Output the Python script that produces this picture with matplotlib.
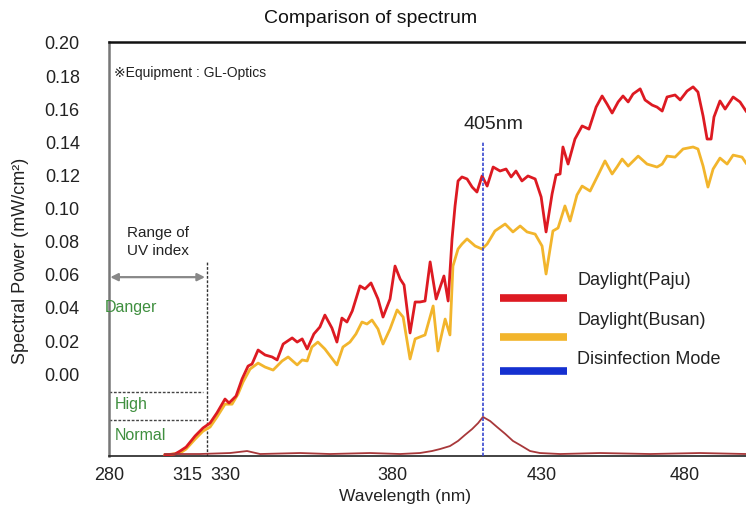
import numpy as np
import matplotlib.pyplot as plt
from matplotlib.lines import Line2D

# ---- data (wavelength in nm, spectral power) ----
paju_nm = [305.1, 309.6, 311.9, 314.6, 318.2, 321.3, 324.1, 326.8, 330.0, 331.2, 333.3, 335.1,
           336.9, 338.1, 339.9, 342.0, 344.1, 345.6, 347.4, 350.1, 351.6, 353.1, 354.6, 356.6,
           358.4, 359.9, 362.0, 363.5, 365.0, 366.5, 368.1, 370.4, 371.9, 373.7, 375.8, 377.3,
           379.4, 381.0, 382.7, 384.0, 386.0, 387.7, 389.3, 391.0, 392.7, 394.7, 397.3, 398.7,
           400.0, 401.0, 402.0, 403.3, 405.0, 406.7, 408.3, 410.0, 411.7, 413.7, 416.0, 418.0,
           419.7, 421.3, 423.3, 425.3, 427.7, 429.7, 431.4, 433.5, 434.9, 436.3, 437.3, 439.1,
           441.5, 444.0, 446.4, 448.9, 451.0, 452.7, 454.5, 456.6, 458.3, 460.1, 461.8, 464.3,
           466.0, 468.5, 470.2, 472.0, 473.7, 476.5, 478.3, 480.7, 482.8, 484.5, 486.3, 487.7,
           489.1, 490.1, 492.2, 494.0, 496.8, 499.2, 501.3]
paju_val = [-0.0494, -0.0488, -0.0470, -0.0446, -0.0379, -0.0331, -0.0301, -0.0240, -0.0156,
            -0.0180, -0.0138, -0.0035, 0.0043, 0.0056, 0.0140, 0.0110, 0.0098, 0.0080, 0.0176,
            0.0213, 0.0188, 0.0207, 0.0146, 0.0237, 0.0279, 0.0351, 0.0273, 0.0188, 0.0333,
            0.0309, 0.0376, 0.0527, 0.0509, 0.0545, 0.0448, 0.0339, 0.0448, 0.0647, 0.0569,
            0.0533, 0.0243, 0.0430, 0.0430, 0.0436, 0.0672, 0.0448, 0.0587, 0.0436, 0.0811,
            0.1010, 0.1161, 0.1185, 0.1173, 0.1124, 0.1094, 0.1191, 0.1130, 0.1245, 0.1221,
            0.1233, 0.1185, 0.1221, 0.1161, 0.1191, 0.1173, 0.1064, 0.0853, 0.1082, 0.1197,
            0.1203, 0.1366, 0.1263, 0.1414, 0.1493, 0.1474, 0.1607, 0.1674, 0.1626, 0.1571,
            0.1638, 0.1674, 0.1638, 0.1686, 0.1717, 0.1650, 0.1619, 0.1607, 0.1583, 0.1668,
            0.1680, 0.1650, 0.1704, 0.1729, 0.1698, 0.1553, 0.1414, 0.1414, 0.1547, 0.1644,
            0.1595, 0.1668, 0.1638, 0.1583]

busan_nm = [305.1, 311.9, 314.6, 318.2, 321.3, 324.1, 326.8, 330.0, 332.1, 333.9, 335.4, 337.5,
            339.9, 342.0, 344.4, 347.1, 348.9, 351.6, 353.1, 354.6, 356.0, 357.8, 359.9, 361.7,
            363.5, 365.3, 367.4, 369.2, 371.0, 372.5, 374.0, 375.8, 377.3, 379.4, 381.7, 383.7,
            386.0, 387.7, 389.3, 391.0, 393.7, 395.3, 397.7, 399.3, 400.3, 402.0, 403.3, 405.0,
            407.7, 410.0, 411.7, 414.3, 417.7, 420.3, 422.7, 425.0, 427.7, 430.0, 431.4, 433.8,
            435.6, 438.0, 439.8, 442.2, 444.0, 446.8, 449.6, 452.0, 454.5, 456.2, 458.0, 460.1,
            463.6, 466.7, 470.2, 472.0, 473.7, 476.5, 479.3, 482.8, 484.5, 486.3, 488.0, 489.8,
            492.2, 494.7, 496.8, 499.9, 501.3]
busan_val = [-0.0494, -0.0482, -0.0458, -0.0398, -0.0350, -0.0325, -0.0265, -0.0187, -0.0187,
             -0.0126, -0.0053, 0.0025, 0.0061, 0.0037, 0.0019, 0.0074, 0.0098, 0.0050, 0.0080,
             0.0074, 0.0158, 0.0188, 0.0146, 0.0098, 0.0050, 0.0158, 0.0188, 0.0237, 0.0309,
             0.0297, 0.0321, 0.0267, 0.0176, 0.0267, 0.0382, 0.0339, 0.0086, 0.0207, 0.0219,
             0.0231, 0.0406, 0.0134, 0.0327, 0.0231, 0.0647, 0.0750, 0.0780, 0.0811, 0.0768,
             0.0750, 0.0780, 0.0859, 0.0901, 0.0853, 0.0889, 0.0853, 0.0840, 0.0768, 0.0599,
             0.0859, 0.0877, 0.1010, 0.0919, 0.1076, 0.1130, 0.1100, 0.1197, 0.1282, 0.1203,
             0.1245, 0.1293, 0.1251, 0.1311, 0.1263, 0.1245, 0.1263, 0.1311, 0.1305, 0.1354,
             0.1366, 0.1354, 0.1251, 0.1124, 0.1233, 0.1299, 0.1263, 0.1317, 0.1305, 0.1269]

disinf_nm = [305.1, 320.1, 331.5, 336.6, 340.5, 352.5, 361.4, 373.4, 382.7, 389.3, 393.3, 396.0,
             399.3, 402.0, 404.3, 406.7, 408.7, 410.3, 412.7, 415.0, 417.7, 420.3, 422.7, 426.0,
             429.3, 436.3, 450.3, 467.8, 485.2, 501.3]
disinf_val = [-0.0488, -0.0488, -0.0482, -0.0470, -0.0488, -0.0482, -0.0488, -0.0482, -0.0488,
              -0.0482, -0.0470, -0.0458, -0.0440, -0.0409, -0.0373, -0.0337, -0.0301, -0.0264,
              -0.0289, -0.0325, -0.0366, -0.0409, -0.0434, -0.0470, -0.0482, -0.0488, -0.0482,
              -0.0488, -0.0482, -0.0488]

peak_nm = 410.3   # where the 405nm marker is drawn
uv_limit_nm = 322.9

x_ticks = [280, 315, 330, 380, 430, 480]
y_ticks = [0.00, 0.02, 0.04, 0.06, 0.08, 0.10, 0.12, 0.14, 0.16, 0.18, 0.20]

# uneven tick spacing of the original axis
knot_nm = [250, 280, 315, 330, 380, 430, 480, 530]
knot_pos = [42.1, 109, 187, 225, 392, 542, 685, 828]


def fwd(x):
    return np.interp(x, knot_nm, knot_pos)


def inv(p):
    return np.interp(p, knot_pos, knot_nm)


plt.rcParams['font.family'] = ['Liberation Sans', 'DejaVu Sans']

fig = plt.figure(figsize=(7.46, 5.06), dpi=100)
ax = fig.add_axes([109 / 746, 1 - 457 / 506, 637 / 746, 414 / 506])
ax.set_xscale('function', functions=(fwd, inv))
ax.set_xlim(280, 501.3)
ax.set_ylim(-0.05, 0.2)

red = '#dd1a22'
yellow = '#f2b52c'
blue = '#1530d0'
brown = '#a8383a'
green = '#3f8f3f'

ax.plot(busan_nm, busan_val, color=yellow, lw=2.0, zorder=3)
ax.plot(paju_nm, paju_val, color=red, lw=2.0, zorder=4)
ax.plot(disinf_nm, disinf_val, color=brown, lw=1.3, zorder=5)
ax.axvline(peak_nm, ymax=0.761, color='#3a48d0', lw=1.2, ls=(0, (2, 1)), zorder=6)
ax.axvline(uv_limit_nm, ymax=0.4686, color='#333333', lw=1.0, ls=(0, (2, 1.2)), zorder=2)

# UV index range decorations
for fy in [0.1546, 0.087]:
    ax.add_line(Line2D([0, 0.1476], [fy, fy], transform=ax.transAxes,
                       color='#444444', lw=1.0, ls=(0, (2, 1.2))))
ax.annotate('', xy=(0.002, 0.432), xytext=(0.1507, 0.432), xycoords='axes fraction',
            arrowprops=dict(arrowstyle='<|-|>', color='#888888', lw=1.6, mutation_scale=11,
                            shrinkA=0, shrinkB=0))
ax.text(0.0769, 0.519, 'Range of\nUV index', transform=ax.transAxes, ha='center', va='center',
        fontsize=11, color='#222222', linespacing=1.3)
ax.text(-0.006, 0.36, 'Danger', transform=ax.transAxes, ha='left', va='center',
        fontsize=11.5, color=green)
ax.text(0.0094, 0.128, 'High', transform=ax.transAxes, ha='left', va='center',
        fontsize=11.5, color=green)
ax.text(0.0094, 0.053, 'Normal', transform=ax.transAxes, ha='left', va='center',
        fontsize=11.5, color=green)

ax.text(0.008, 0.9275, '※Equipment : GL-Optics', transform=ax.transAxes, ha='left',
        va='center', fontsize=10, color='#222222')
ax.text(0.604, 0.804, '405nm', transform=ax.transAxes, ha='center', va='center',
        fontsize=14, color='#222222')

# legend drawn by hand (swatch under each label)
leg_labels = ['Daylight(Paju)', 'Daylight(Busan)', 'Disinfection Mode']
leg_colors = [red, yellow, blue]
for i, (lab, col) in enumerate(zip(leg_labels, leg_colors)):
    ly = [0.3816, 0.2874, 0.2053][i]
    ty = [0.4275, 0.3309, 0.2367][i]
    ax.add_line(Line2D([0.614, 0.719], [ly, ly], transform=ax.transAxes,
                       color=col, lw=5.5, solid_capstyle='butt'))
    ax.text(0.7347, ty, lab, transform=ax.transAxes, ha='left', va='center',
            fontsize=13, color='#222222')

ax.set_xticks(x_ticks)
ax.set_xticklabels([str(t) for t in x_ticks])
ax.set_yticks(y_ticks)
ax.set_yticklabels(['%.2f' % t for t in y_ticks])
ax.tick_params(axis='both', length=0, labelsize=13, colors='#222222')
ax.tick_params(axis='y', pad=21)
ax.tick_params(axis='x', pad=7)

ax.spines['right'].set_visible(False)
ax.spines['left'].set_color('#777777')
ax.spines['left'].set_linewidth(1.8)
ax.spines['top'].set_color('#111111')
ax.spines['top'].set_linewidth(1.8)
ax.spines['bottom'].set_color('#222222')
ax.spines['bottom'].set_linewidth(1.2)
ax.spines['bottom'].set_linestyle((0, (2, 1)))

fig.text(0.497, 0.964, 'Comparison of spectrum', ha='center', va='center', fontsize=14,
         color='#111111')
fig.text(0.027, 0.484, 'Spectral Power (mW/cm²)', rotation=90, ha='center', va='center',
         fontsize=13, color='#222222')
fig.text(0.543, 0.019, 'Wavelength (nm)', ha='center', va='center', fontsize=12.5,
         color='#222222')

fig.savefig('out.png', dpi=100)
